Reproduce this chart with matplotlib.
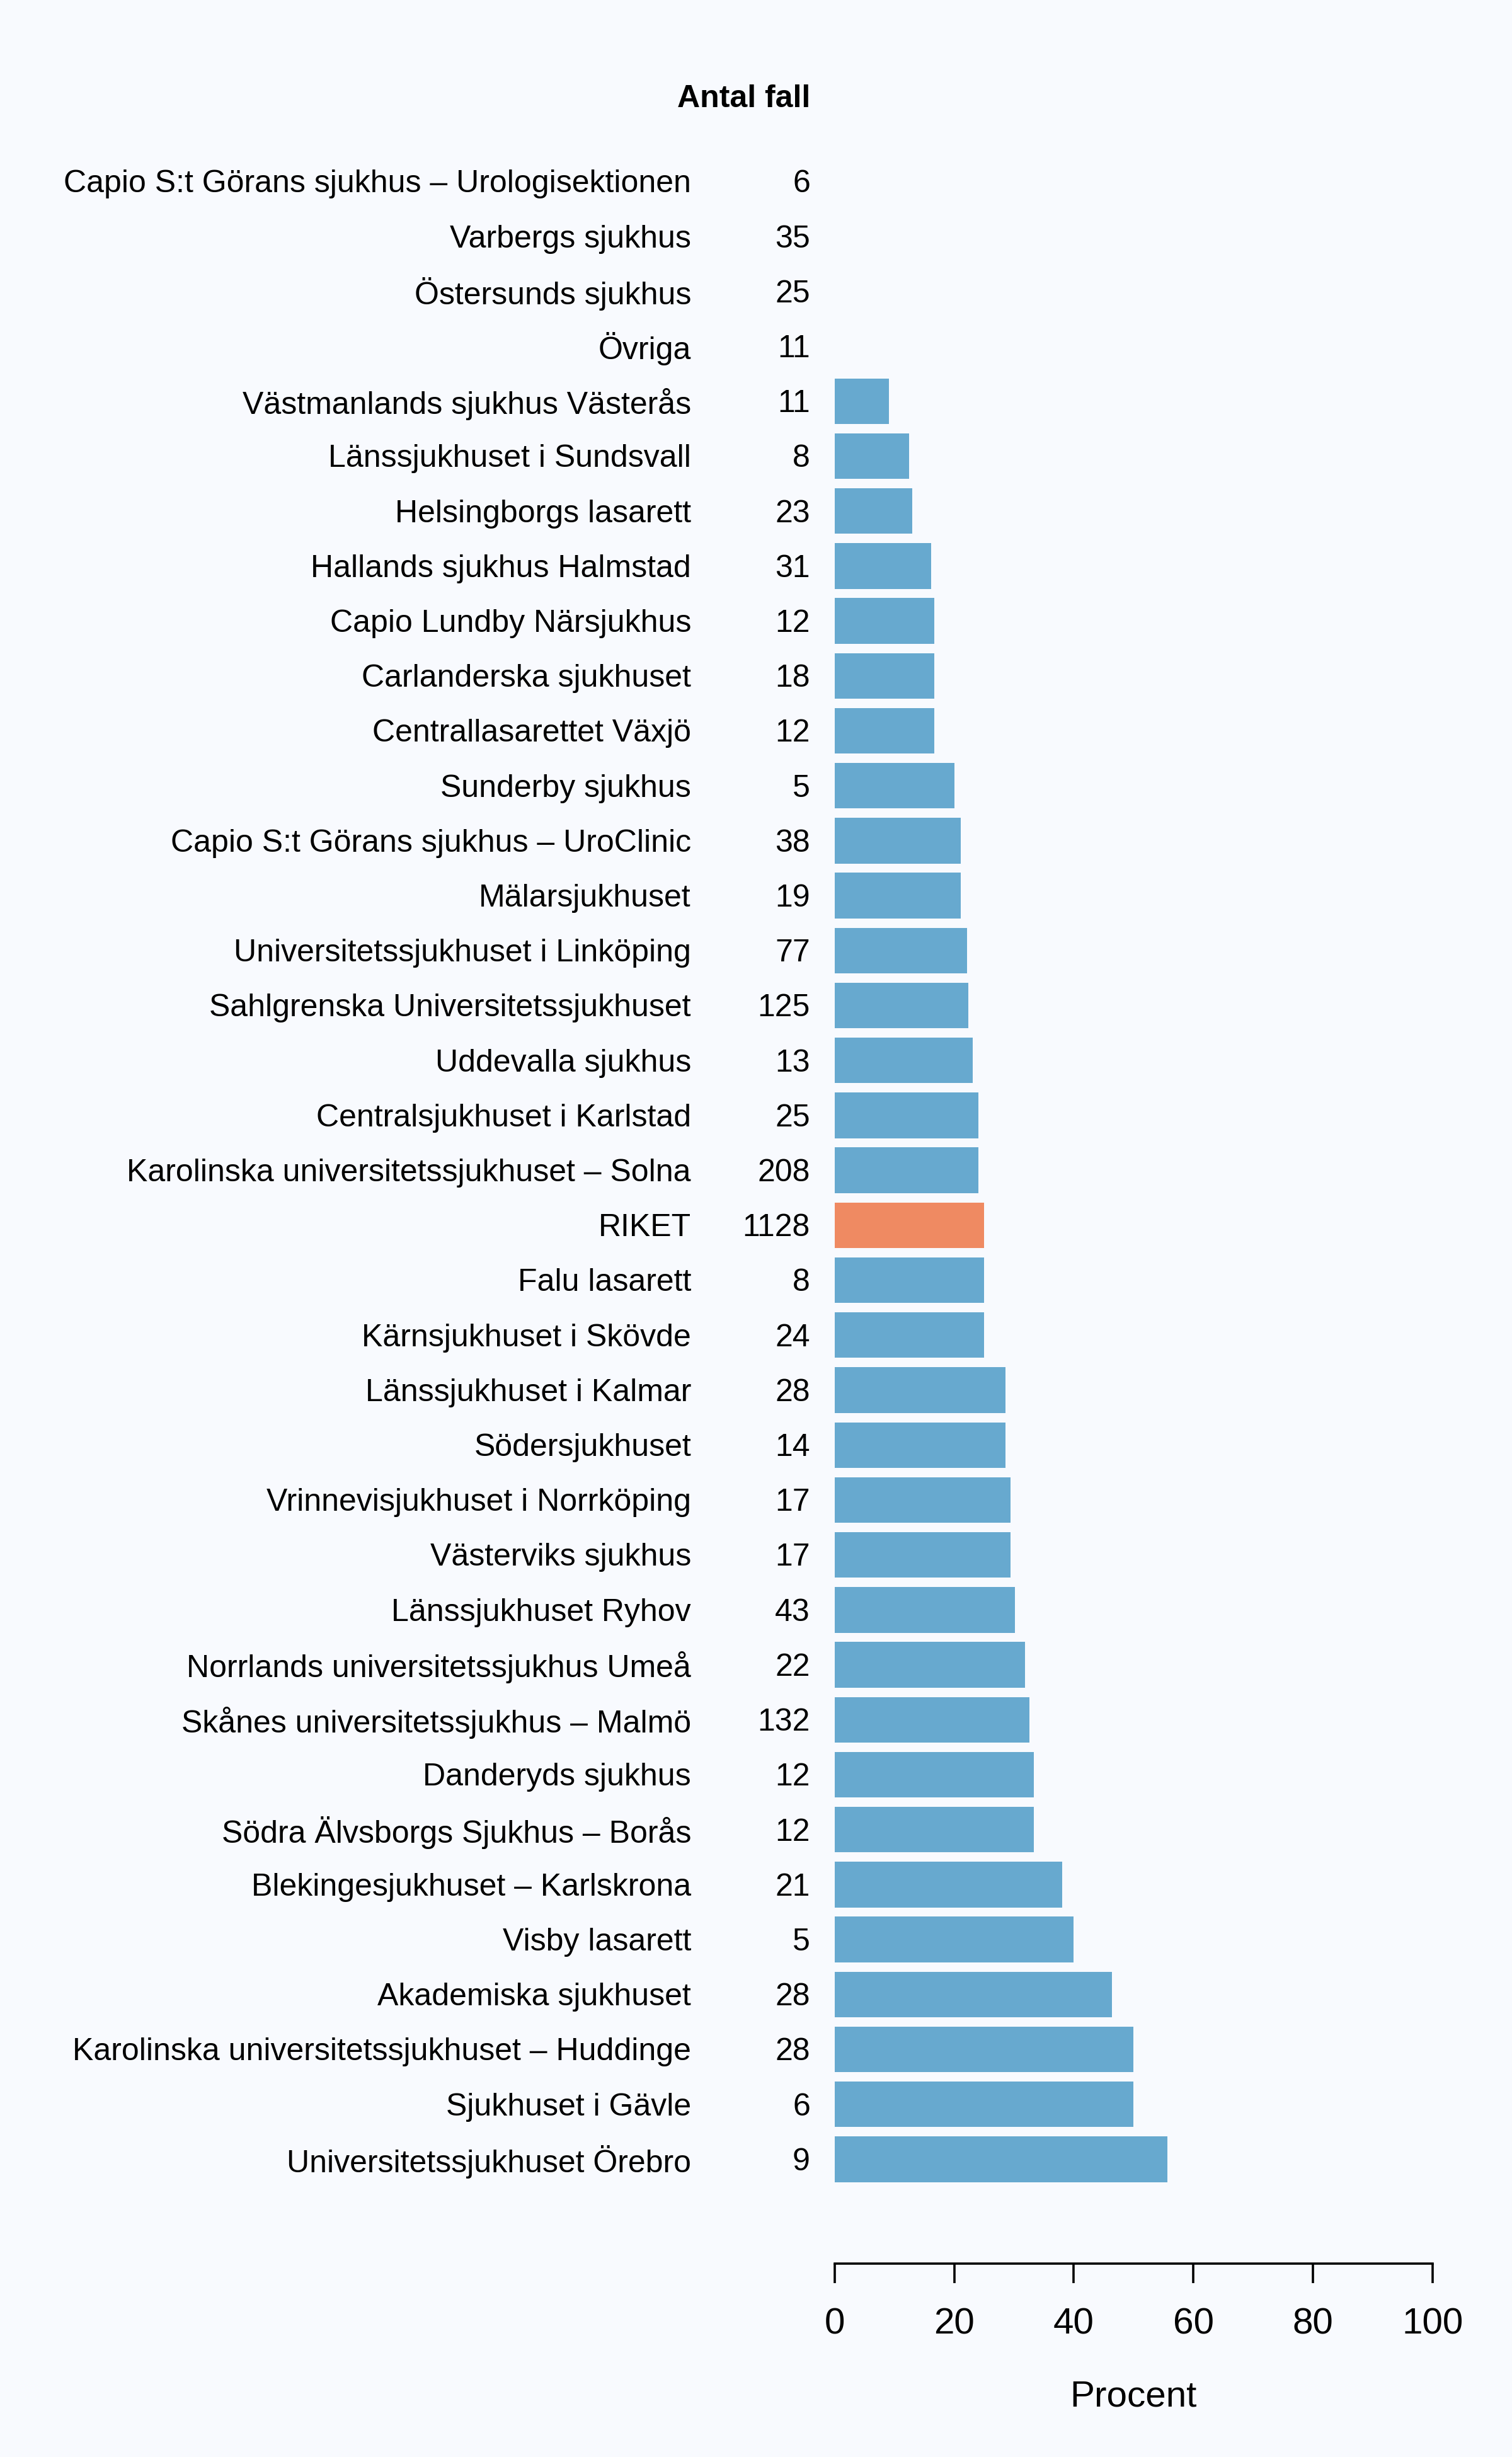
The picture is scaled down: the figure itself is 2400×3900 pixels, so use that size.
import numpy as np
import matplotlib
matplotlib.use("Agg")
import matplotlib.pyplot as plt

plt.rcParams['font.family'] = ['Liberation Sans', 'DejaVu Sans']

# hospitals, top to bottom
hospitals = [
    "Capio S:t Görans sjukhus – Urologisektionen",
    "Varbergs sjukhus",
    "Östersunds sjukhus",
    "Övriga",
    "Västmanlands sjukhus Västerås",
    "Länssjukhuset i Sundsvall",
    "Helsingborgs lasarett",
    "Hallands sjukhus Halmstad",
    "Capio Lundby Närsjukhus",
    "Carlanderska sjukhuset",
    "Centrallasarettet Växjö",
    "Sunderby sjukhus",
    "Capio S:t Görans sjukhus – UroClinic",
    "Mälarsjukhuset",
    "Universitetssjukhuset i Linköping",
    "Sahlgrenska Universitetssjukhuset",
    "Uddevalla sjukhus",
    "Centralsjukhuset i Karlstad",
    "Karolinska universitetssjukhuset – Solna",
    "RIKET",
    "Falu lasarett",
    "Kärnsjukhuset i Skövde",
    "Länssjukhuset i Kalmar",
    "Södersjukhuset",
    "Vrinnevisjukhuset i Norrköping",
    "Västerviks sjukhus",
    "Länssjukhuset Ryhov",
    "Norrlands universitetssjukhus Umeå",
    "Skånes universitetssjukhus – Malmö",
    "Danderyds sjukhus",
    "Södra Älvsborgs Sjukhus – Borås",
    "Blekingesjukhuset – Karlskrona",
    "Visby lasarett",
    "Akademiska sjukhuset",
    "Karolinska universitetssjukhuset – Huddinge",
    "Sjukhuset i Gävle",
    "Universitetssjukhuset Örebro",
]

antal_fall = [6, 35, 25, 11, 11, 8, 23, 31, 12, 18, 12, 5, 38, 19, 77, 125, 13, 25,
              208, 1128, 8, 24, 28, 14, 17, 17, 43, 22, 132, 12, 12, 21, 5, 28, 28, 6, 9]

procent = [0.0, 0.0, 0.0, 0.0, 9.1, 12.5, 13.0, 16.1, 16.7, 16.7, 16.7, 20.0, 21.1,
           21.1, 22.1, 22.4, 23.1, 24.0, 24.0, 25.0, 25.0, 25.0, 28.6, 28.6, 29.4,
           29.4, 30.2, 31.8, 32.6, 33.3, 33.3, 38.1, 40.0, 46.4, 50.0, 50.0, 55.6]

bg = '#f8fafe'
blue = '#67a9cf'
orange = '#ef8a62'

fig = plt.figure(figsize=(12, 19.5), dpi=200, facecolor=bg)
ax = fig.add_axes([0.552, 0.0787, 0.3955, 0.881])
ax.set_facecolor(bg)

y = np.arange(len(hospitals))
colors = [orange if h == "RIKET" else blue for h in hospitals]
ax.barh(y, procent, height=0.83, color=colors)

ax.set_xlim(0, 100)
ax.set_ylim(37.9, -1.5)

for s in ['top', 'right', 'left']:
    ax.spines[s].set_visible(False)
ax.spines['bottom'].set_bounds(0, 100)
ax.spines['bottom'].set_linewidth(1.3)
ax.set_yticks([])
ax.set_xticks([0, 20, 40, 60, 80, 100])
ax.tick_params(axis='x', length=11, width=1.3, pad=14, labelsize=21)
ax.set_xlabel("Procent", fontsize=21, labelpad=22)

fs = 18
for yi, name, n in zip(y, hospitals, antal_fall):
    ax.text(-24.0, yi + 0.05, name, ha='right', va='center', fontsize=fs, clip_on=False)
    ax.text(-4.1, yi + 0.05, str(n), ha='right', va='center', fontsize=fs, clip_on=False)

ax.text(-4.1, -1.5, "Antal fall", ha='right', va='center', fontsize=fs,
        fontweight='bold', clip_on=False)

fig.savefig("out.png", dpi=200, facecolor=bg)
